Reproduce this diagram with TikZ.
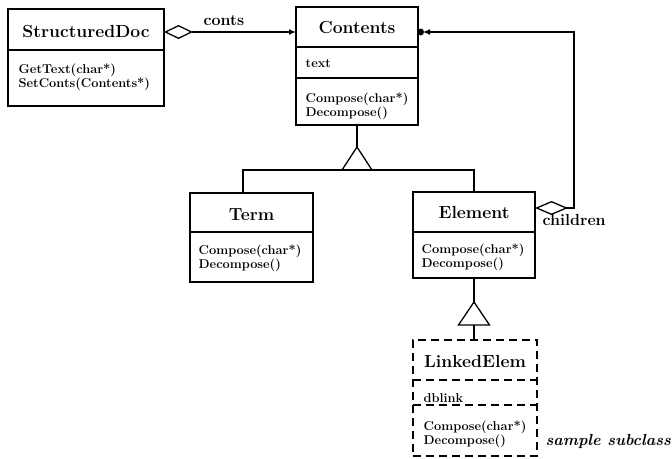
\documentclass[tikz,border=0pt]{standalone}
\usetikzlibrary{arrows.meta}
\begin{document}
\begin{tikzpicture}[x=1pt,y=-1pt,
  line width=1.3pt,
  cls/.style={draw, line width=1.3pt, inner sep=0pt, outer sep=0pt, anchor=north west},
  dcls/.style={cls, dash pattern=on 8pt off 5pt},
  ttl/.style={font=\fontsize{17.5}{20}\selectfont\bfseries, anchor=base, inner sep=0pt},
  mth/.style={font=\fontsize{12.8}{14}\selectfont\bfseries, anchor=base west, inner sep=0pt},
  lbl/.style={font=\fontsize{16}{19}\selectfont\bfseries, anchor=base west, inner sep=0pt},
  ital/.style={font=\fontsize{16}{19}\selectfont\bfseries\itshape, anchor=base west, inner sep=0pt},
  dsep/.style={dash pattern=on 8pt off 5pt}
]
\path[use as bounding box] (0,0) rectangle (672,458);

% class frames
\node[cls, minimum width=156, minimum height=97] (sd) at (8,9) {};
\node[cls, minimum width=122, minimum height=118] (ct) at (296,7) {};
\node[cls, minimum width=123, minimum height=89] (tm) at (190,193) {};
\node[cls, minimum width=122, minimum height=86] (el) at (413,192) {};
\node[dcls, minimum width=124, minimum height=116] (le) at (413,340) {};

% compartments
\draw ([yshift=-41pt]sd.north west) -- ([yshift=-41pt]sd.north east);
\draw ([yshift=-40pt]ct.north west) -- ([yshift=-40pt]ct.north east);
\draw ([yshift=-71pt]ct.north west) -- ([yshift=-71pt]ct.north east);
\draw ([yshift=-39pt]tm.north west) -- ([yshift=-39pt]tm.north east);
\draw ([yshift=-40pt]el.north west) -- ([yshift=-40pt]el.north east);
\draw[dsep] ([yshift=-40pt]le.north west) -- ([yshift=-40pt]le.north east);
\draw[dsep] ([yshift=-65pt]le.north west) -- ([yshift=-65pt]le.north east);

% titles
\node[ttl] (sdT) at ([yshift=-28pt]sd.north) {StructuredDoc};
\node[ttl] (ctT) at ([yshift=-26pt]ct.north) {Contents};
\node[ttl] (tmT) at ([yshift=-27pt]tm.north) {Term};
\node[ttl] (elT) at ([yshift=-26pt]el.north) {Element};
\node[ttl] (leT) at ([yshift=-27pt]le.north) {LinkedElem};

% members
\node[mth] (sd1) at (18,73) {GetText(char*)};
\node[mth] (sd2) at (18,87) {SetConts(Contents*)};
\node[mth] (ct0) at (305,67) {text};
\node[mth] (ct1) at (305,102) {Compose(char*)};
\node[mth] (ct2) at (305,116) {Decompose()};
\node[mth] (tm1) at (198,254) {Compose(char*)};
\node[mth] (tm2) at (198,268) {Decompose()};
\node[mth] (el1) at (421,253) {Compose(char*)};
\node[mth] (el2) at (421,267) {Decompose()};
\node[mth] (le0) at (423,402) {dblink};
\node[mth] (le1) at (423,430) {Compose(char*)};
\node[mth] (le2) at (423,444) {Decompose()};

% conts association
\coordinate (yA) at (0,32);
\draw[{Diamond[open,length=29pt,width=14pt]}-{Latex[length=7pt,width=6pt]}]
  (sd.east |- yA) -- (ct.west |- yA);
\node[lbl, anchor=base] (lconts) at (224,25) {conts};

% children association
\coordinate (yC) at (0,208);
\coordinate (xR) at (574,0);
\draw[{Diamond[open,length=33pt,width=14pt]}-{Latex[length=7pt,width=6pt]}, shorten >=5pt]
  (el.east |- yC) -- (xR |- yC) -- (xR |- yA) -- (ct.east |- yA);
\fill ([xshift=2.5pt]ct.east |- yA) circle (3.5pt);
\node[lbl] (lchild) at (542,225) {children};

% generalization Contents <- Term, Element
\draw (ct.south) -- ++(0,22) coordinate (apx1);
\draw (apx1) -- ++(15,23) -- ++(-30,0) -- cycle;
\coordinate (tJ) at (243,170);
\coordinate (eJ) at (474,170);
\draw (tm.north -| tJ) -- (tJ) -- (eJ) -- (el.north);

% generalization Element <- LinkedElem
\draw (el.south) -- ++(0,24) coordinate (apx2);
\draw (apx2) -- ++(15.5,23) -- ++(-31,0) -- cycle;
\path (apx2) ++(0,23) coordinate (b2);
\draw (b2) -- (b2 |- le.north);

\node[ital] (lsample) at (545,445) {sample subclass};
\end{tikzpicture}
\end{document}
